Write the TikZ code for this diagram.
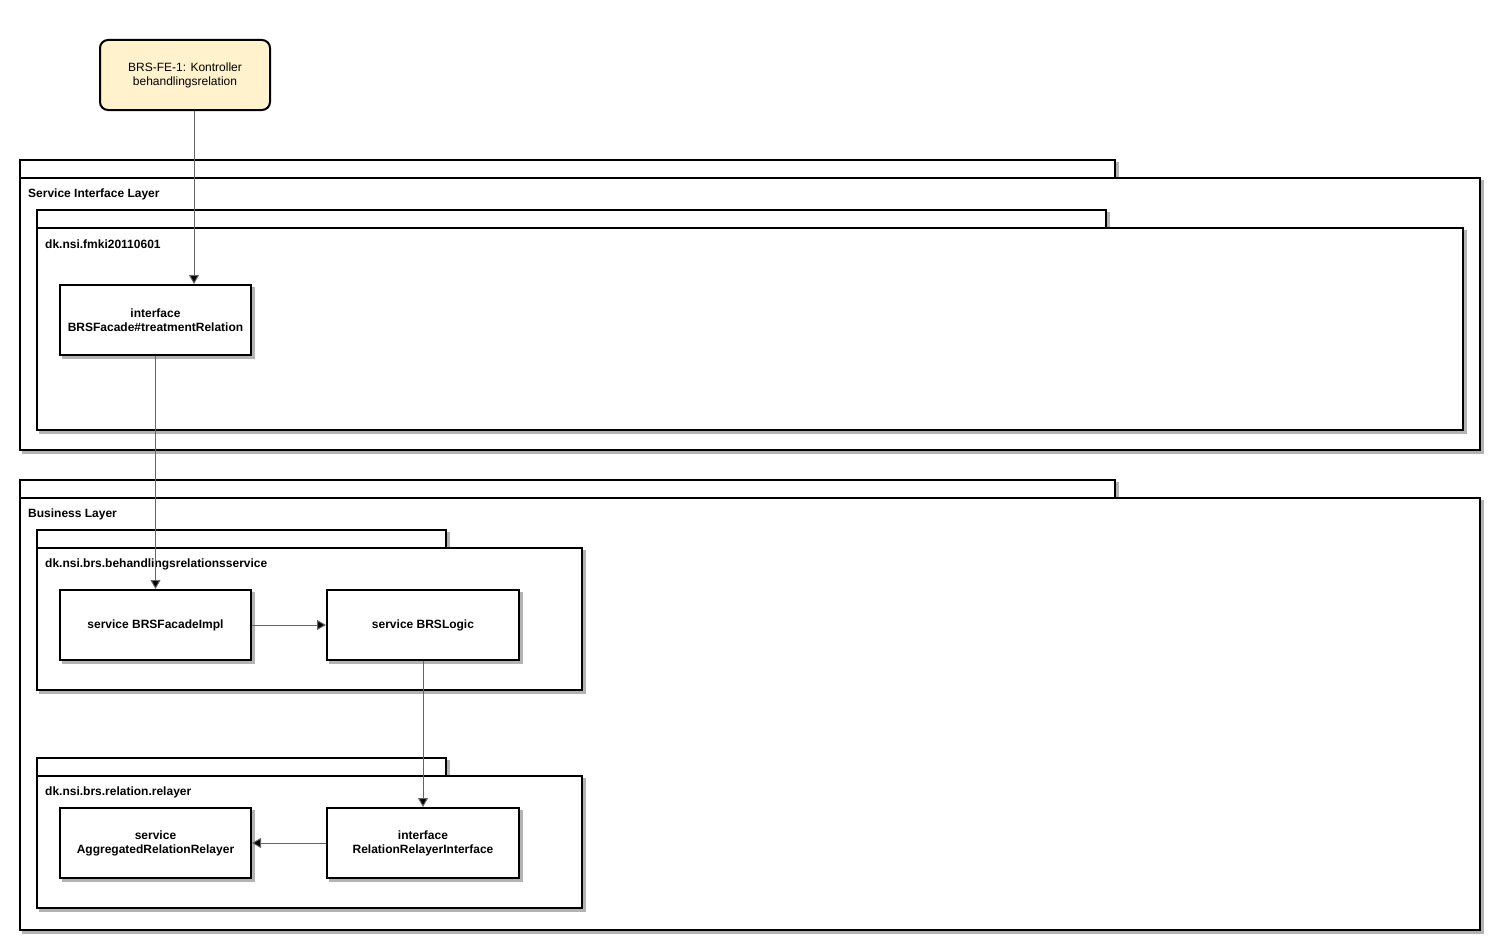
\documentclass[tikz,border=0pt]{standalone}
\usepackage{fontspec}
\setmainfont{Liberation Sans}
\usetikzlibrary{arrows.meta,shadows}
\definecolor{shadowgray}{RGB}{179,179,179}
\definecolor{notefill}{RGB}{255,242,204}
\definecolor{linegray}{RGB}{102,102,102}
\begin{document}
\begin{tikzpicture}[x=1pt,y=-1pt,
  shadowed/.style={general shadow={fill=shadowgray, draw=shadowgray, shadow xshift=3pt, shadow yshift=-3pt}},
  boxbase/.style={draw, line width=2pt, fill=white, anchor=north west, inner sep=0pt, shadowed},
  comp/.style={boxbase, minimum width=191pt, minimum height=70pt, align=center,
    font=\fontsize{12}{14}\selectfont\bfseries},
  pkglabel/.style={anchor=west, inner sep=0pt, font=\fontsize{12}{14}\selectfont\bfseries},
  conn/.style={draw=linegray, line width=1pt, -{Triangle[length=9pt,width=10pt,fill=black]}},
  note/.style={draw, line width=2pt, fill=notefill, rounded corners=8pt, anchor=north west,
    minimum width=170pt, minimum height=70pt, inner sep=0pt, align=center,
    font=\fontsize{12}{14}\selectfont}
]
\useasboundingbox (1,1) rectangle (1509,951);

% top requirement note
\node[note] (req) at (100,40) {BRS-FE-1: Kontroller\\behandlingsrelation};

% Service Interface Layer
\node[boxbase, minimum width=1095pt, minimum height=18pt] (silTab) at (20,160) {};
\node[boxbase, minimum width=1460pt, minimum height=272pt] (sil) at (20,178) {};
\node[pkglabel] (silLbl) at (29,195) {Service Interface Layer};

\node[boxbase, minimum width=1069pt, minimum height=18pt] (fmkiTab) at (37,210) {};
\node[boxbase, minimum width=1426pt, minimum height=202pt] (fmki) at (37,228) {};
\node[pkglabel] (fmkiLbl) at (46,245) {dk.nsi.fmki20110601};

\node[comp] (iface) at (60,285) {interface\\BRSFacade\#treatmentRelation};

% Business Layer
\node[boxbase, minimum width=1095pt, minimum height=18pt] (blTab) at (20,480) {};
\node[boxbase, minimum width=1460pt, minimum height=432pt] (bl) at (20,498) {};
\node[pkglabel] (blLbl) at (29,515) {Business Layer};

\node[boxbase, minimum width=409pt, minimum height=18pt] (brsTab) at (37,530) {};
\node[boxbase, minimum width=545pt, minimum height=142pt] (brs) at (37,548) {};
\node[pkglabel] (brsLbl) at (46,565) {dk.nsi.brs.behandlingsrelationsservice};

\node[comp] (facadeImpl) at (60,590) {service BRSFacadeImpl};
\node[comp, minimum width=192pt] (logic) at (327,590) {service BRSLogic};

\node[boxbase, minimum width=409pt, minimum height=18pt] (relTab) at (37,758) {};
\node[boxbase, minimum width=545pt, minimum height=132pt] (rel) at (37,776) {};
\node[pkglabel] (relLbl) at (46,793) {dk.nsi.brs.relation.relayer};

\node[comp] (aggr) at (60,808) {service\\AggregatedRelationRelayer};
\node[comp, minimum width=192pt] (relIface) at (327,808) {interface\\RelationRelayerInterface};

% connectors
\coordinate (reqX) at (195,0);
\draw[conn] (req.south -| reqX) -- (iface.north -| reqX);
\draw[conn] (iface.south) -- (facadeImpl.north);
\draw[conn] (facadeImpl.east) -- (logic.west);
\draw[conn] (logic.south) -- (relIface.north);
\draw[conn] (relIface.west) -- (aggr.east);
\end{tikzpicture}
\end{document}
